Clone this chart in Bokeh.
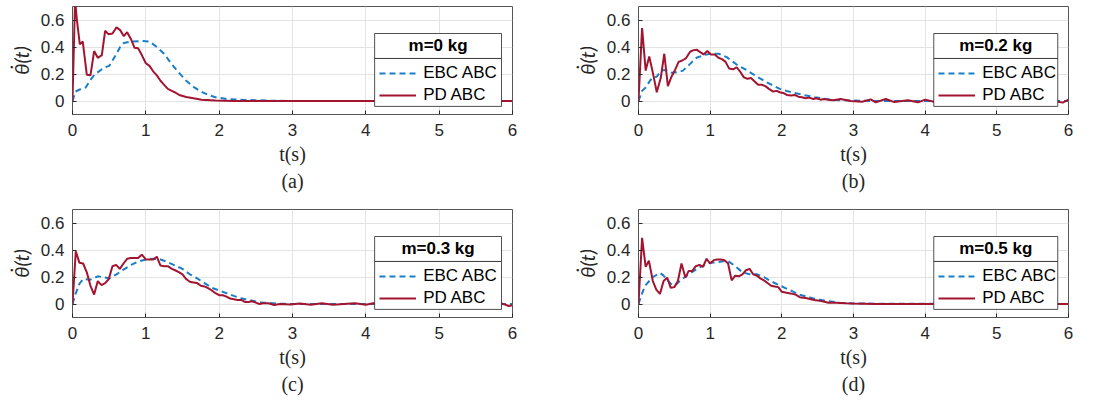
from bokeh.plotting import figure
from bokeh.layouts import column, row
from bokeh.models import (Range1d, FixedTicker, BoxAnnotation, Label, Legend,
                          LegendItem, Title)
from bokeh.embed import file_html
from bokeh.resources import INLINE

# ---------------- data ----------------
x_ticks = [0, 1, 2, 3, 4, 5, 6]
y_ticks = [0, 0.2, 0.4, 0.6]
y_tick_labels = ["0", "0.2", "0.4", "0.6"]
x_label = "t(s)"
y_label = "\u03b8\u0307(t)"
series_names = ["EBC ABC", "PD ABC"]
mass_labels = ["m=0 kg", "m=0.2 kg", "m=0.3 kg", "m=0.5 kg"]
captions = ["(a)", "(b)", "(c)", "(d)"]

# (a) m = 0 kg
t_a_ebc = [0, 0.04, 0.1, 0.18, 0.25, 0.3, 0.4, 0.445, 0.5, 0.545, 0.6, 0.65, 0.7, 0.8, 0.945,
           1.05, 1.15, 1.25, 1.35, 1.45, 1.55, 1.65, 1.75, 1.85, 1.95, 2.1, 2.35, 2.67, 3.0, 6.0]
v_a_ebc = [0, 0.07, 0.085, 0.1, 0.16, 0.195, 0.235, 0.25, 0.26, 0.3, 0.35, 0.4, 0.43, 0.44, 0.445,
           0.44, 0.4, 0.35, 0.275, 0.21, 0.15, 0.105, 0.07, 0.045, 0.028, 0.015, 0.008, 0.003, 0.0, 0.0]
t_a_pd = [0, 0.035, 0.06, 0.1, 0.14, 0.16, 0.195, 0.245, 0.295, 0.345, 0.4, 0.445, 0.49, 0.545, 0.6,
          0.65, 0.7, 0.745, 0.8, 0.845, 0.895, 0.945, 1.0, 1.05, 1.1, 1.15, 1.2, 1.25, 1.3, 1.355,
          1.4, 1.455, 1.55, 1.65, 1.76, 1.95, 2.2, 6.0]
v_a_pd = [0, 0.75, 0.6, 0.42, 0.44, 0.35, 0.195, 0.19, 0.37, 0.32, 0.34, 0.52, 0.495, 0.5, 0.545,
          0.525, 0.48, 0.51, 0.455, 0.395, 0.39, 0.34, 0.28, 0.26, 0.22, 0.19, 0.15, 0.12, 0.09, 0.075,
          0.063, 0.045, 0.03, 0.02, 0.01, 0.003, 0.0, 0.0]

# (b) m = 0.2 kg
t_b_ebc = [0, 0.05, 0.1, 0.16, 0.2, 0.255, 0.31, 0.37, 0.46, 0.56, 0.62, 0.72, 0.81, 0.91, 1.01,
           1.12, 1.23, 1.37, 1.52, 1.67, 1.82, 1.97, 2.13, 2.3, 2.46, 2.62, 2.72, 3.0, 3.3, 6.0]
v_b_ebc = [0, 0.075, 0.1, 0.15, 0.175, 0.18, 0.225, 0.23, 0.21, 0.215, 0.225, 0.275, 0.32, 0.34, 0.35,
           0.35, 0.325, 0.27, 0.225, 0.175, 0.13, 0.09, 0.065, 0.045, 0.028, 0.015, 0.008, 0.003, 0.0, 0.0]
t_b_pd = [0, 0.05, 0.1, 0.15, 0.2, 0.255, 0.31, 0.36, 0.41, 0.46, 0.51, 0.56, 0.61, 0.66, 0.72,
          0.76, 0.81, 0.865, 0.91, 0.96, 1.01, 1.065, 1.115, 1.165, 1.215, 1.265, 1.32, 1.37, 1.415,
          1.47, 1.52, 1.57, 1.62, 1.67, 1.72, 1.77, 1.82, 1.88, 1.93, 1.97, 2.03, 2.07, 2.13, 2.18,
          2.23, 2.28, 2.33, 2.38, 2.44, 2.48, 2.54, 2.59, 2.65, 2.72,
          2.82, 2.96, 3.12, 3.24, 3.31, 3.45, 3.57, 3.76, 3.9, 4.0, 4.12, 4.5, 5.0, 5.5, 5.8, 5.92, 6.0]
v_b_pd = [0, 0.54, 0.225, 0.33, 0.21, 0.065, 0.17, 0.35, 0.11, 0.18, 0.23, 0.29, 0.30, 0.315, 0.365,
          0.375, 0.38, 0.36, 0.345, 0.37, 0.345, 0.345, 0.32, 0.31, 0.29, 0.24, 0.235, 0.25, 0.22,
          0.175, 0.165, 0.17, 0.145, 0.12, 0.12, 0.11, 0.09, 0.07, 0.075, 0.065, 0.057, 0.045, 0.04, 0.045,
          0.032, 0.028, 0.02, 0.025, 0.015, 0.02, 0.01, 0.015, 0.01, 0.005,
          0.015, 0.0, -0.005, 0.012, -0.01, 0.015, -0.008, 0.005, -0.01, 0.01, -0.005, 0.0, 0.005, 0.0, 0.0, -0.012, 0.01]

# (c) m = 0.3 kg
t_c_ebc = [0, 0.045, 0.095, 0.145, 0.245, 0.345, 0.5, 0.6, 0.695, 0.8, 0.9, 1.0, 1.1, 1.2, 1.3, 1.4,
           1.5, 1.6, 1.7, 1.8, 1.9, 2.0, 2.1, 2.2, 2.3, 2.4, 2.5, 2.6, 2.8, 3.0, 6.0]
v_c_ebc = [0, 0.08, 0.15, 0.185, 0.18, 0.205, 0.19, 0.22, 0.255, 0.29, 0.315, 0.33, 0.335, 0.33, 0.31, 0.285,
           0.26, 0.22, 0.19, 0.155, 0.12, 0.1, 0.08, 0.06, 0.042, 0.03, 0.018, 0.01, 0.003, 0.0, 0.0]
t_c_pd = [0, 0.045, 0.095, 0.145, 0.195, 0.245, 0.295, 0.345, 0.395, 0.445, 0.495, 0.545, 0.595, 0.645,
          0.695, 0.745, 0.795, 0.845, 0.895, 0.945, 1.0, 1.05, 1.1, 1.15, 1.2, 1.25, 1.3, 1.355, 1.4,
          1.455, 1.5, 1.55, 1.6, 1.65, 1.7, 1.75, 1.8, 1.855, 1.9, 1.95, 2.0, 2.05, 2.1, 2.15, 2.2, 2.25,
          2.3, 2.35, 2.4, 2.45, 2.5, 2.55, 2.6, 2.67, 2.75, 2.83, 2.97, 3.1, 3.25, 3.4, 3.55, 3.7, 3.85,
          4.0, 4.1, 4.5, 5.0, 5.5, 5.85, 5.95, 6.0]
v_c_pd = [0, 0.39, 0.305, 0.3, 0.235, 0.135, 0.07, 0.17, 0.14, 0.155, 0.185, 0.28, 0.29, 0.26,
          0.3, 0.335, 0.34, 0.34, 0.34, 0.365, 0.33, 0.33, 0.33, 0.35, 0.285, 0.28, 0.28, 0.26, 0.25,
          0.235, 0.22, 0.185, 0.165, 0.16, 0.155, 0.135, 0.13, 0.115, 0.1, 0.08, 0.065, 0.065, 0.055, 0.04, 0.035, 0.03,
          0.03, 0.015, 0.015, 0.02, 0.01, 0.0, 0.005, 0.005, -0.008, 0.0, -0.004, 0.004, -0.005, 0.005, -0.005, 0.0, 0.005,
          -0.005, 0.005, 0.0, 0.0, 0.0, 0.005, -0.015, -0.01]

# (d) m = 0.5 kg
t_d_ebc = [0, 0.05, 0.1, 0.2, 0.3, 0.35, 0.45, 0.5, 0.6, 0.7, 0.8, 0.9, 1.0, 1.1, 1.2, 1.25, 1.35,
           1.45, 1.55, 1.65, 1.75, 1.85, 1.95, 2.05, 2.15, 2.25, 2.35, 2.45, 2.55, 2.65, 2.8, 3.0, 6.0]
v_d_ebc = [0, 0.08, 0.14, 0.2, 0.23, 0.21, 0.15, 0.135, 0.18, 0.22, 0.255, 0.285, 0.305, 0.31, 0.318, 0.318, 0.28,
           0.235, 0.22, 0.22, 0.2, 0.168, 0.143, 0.118, 0.093, 0.068, 0.055, 0.04, 0.03, 0.02, 0.01, 0.003, 0.0]
t_d_pd = [0, 0.05, 0.1, 0.145, 0.2, 0.25, 0.3, 0.35, 0.4, 0.45, 0.5, 0.55, 0.6, 0.655, 0.7, 0.75, 0.8,
          0.85, 0.9, 0.95, 1.0, 1.05, 1.1, 1.15, 1.2, 1.25, 1.3, 1.35, 1.4, 1.45, 1.5, 1.55, 1.6, 1.65,
          1.7, 1.75, 1.8, 1.85, 1.9, 1.95, 2.0, 2.05, 2.1, 2.15, 2.2, 2.25, 2.35, 2.45, 2.55, 2.65, 2.75,
          2.9, 3.0, 3.3, 6.0]
v_d_pd = [0, 0.49, 0.275, 0.32, 0.17, 0.105, 0.075, 0.17, 0.195, 0.12, 0.125, 0.17, 0.3, 0.195, 0.245, 0.245, 0.28,
          0.29, 0.275, 0.335, 0.3, 0.325, 0.33, 0.33, 0.325, 0.3, 0.175, 0.21, 0.205, 0.22, 0.25, 0.26, 0.22, 0.21,
          0.19, 0.175, 0.155, 0.135, 0.13, 0.125, 0.09, 0.085, 0.08, 0.075, 0.068, 0.05, 0.043, 0.03, 0.022, 0.01, 0.01,
          0.005, 0.003, 0.0, 0.0]

# ---------------- style ----------------
EBC_COLOR = "#1A7DC8"
PD_COLOR = "#A2142F"
AX_COLOR = "#262626"
SANS = "Liberation Sans"
SERIF = "Liberation Serif"

# legend box extents in data units
LEG_X0, LEG_X1 = 4.12, 5.85
LEG_TOP, LEG_SEP, LEG_BOT = 0.5, 0.315, -0.04
X0, X1, Y0, Y1 = 0, 6, -0.1, 0.7


def panel(idx, t_ebc, v_ebc, t_pd, v_pd, width, height, bl, br, bt, bb):
    p = figure(width=width, height=height, output_backend="svg", toolbar_location=None,
               x_range=Range1d(X0, X1), y_range=Range1d(Y0, Y1),
               min_border_left=bl, min_border_right=br, min_border_top=bt, min_border_bottom=bb,
               background_fill_color="white", border_fill_color="white")
    fw = width - bl - br
    fh = height - bt - bb

    n1 = min(len(t_ebc), len(v_ebc))
    n2 = min(len(t_pd), len(v_pd))
    r_ebc = p.line(x=t_ebc[:n1], y=v_ebc[:n1], line_color=EBC_COLOR, line_width=2,
                   line_dash="6 4")
    r_pd = p.line(x=t_pd[:n2], y=v_pd[:n2], line_color=PD_COLOR, line_width=2)

    # axes
    p.xaxis.ticker = FixedTicker(ticks=x_ticks)
    p.yaxis.ticker = FixedTicker(ticks=y_ticks)
    p.yaxis.major_label_overrides = {t: s for t, s in zip(y_ticks, y_tick_labels)}
    for ax in (p.xaxis[0], p.yaxis[0]):
        ax.axis_line_color = None
        ax.major_tick_in = 4
        ax.major_tick_out = 0
        ax.major_tick_line_color = AX_COLOR
        ax.minor_tick_line_color = None
        ax.major_label_text_font = SANS
        ax.major_label_text_font_size = "17px"
        ax.major_label_text_color = AX_COLOR
        ax.axis_label_text_color = AX_COLOR
        ax.axis_label_text_font = SERIF
        ax.axis_label_text_font_size = "20px"
    p.xaxis.axis_label = x_label
    p.xaxis.axis_label_text_font_style = "normal"
    p.xaxis.major_label_standoff = 9
    p.xaxis.axis_label_standoff = 4
    p.yaxis.axis_label = y_label
    p.yaxis.axis_label_text_font = "Lato"
    p.yaxis.axis_label_text_font_size = "20px"
    p.yaxis.axis_label_text_font_style = "italic"
    p.yaxis.major_label_standoff = 8
    p.yaxis.axis_label_standoff = 5

    p.grid.grid_line_color = "#e3e3e3"
    p.grid.grid_line_width = 1
    p.outline_line_color = "#555555"
    p.outline_line_width = 1

    cap = Title(text=captions[idx], align="center", text_font=SERIF, text_font_size="20px",
                text_font_style="normal", text_color=AX_COLOR, standoff=0)
    p.add_layout(cap, "below")

    # legend frame: title box + entries box
    p.add_layout(BoxAnnotation(left=LEG_X0, right=LEG_X1, top=LEG_TOP, bottom=LEG_SEP,
                               fill_color="white", fill_alpha=1.0,
                               line_color=AX_COLOR, line_width=1, line_alpha=0.8))
    p.add_layout(BoxAnnotation(left=LEG_X0, right=LEG_X1, top=LEG_SEP, bottom=LEG_BOT,
                               fill_color="white", fill_alpha=1.0,
                               line_color=AX_COLOR, line_width=1, line_alpha=0.8))
    p.add_layout(Label(x=(LEG_X0 + LEG_X1) / 2, y=(LEG_TOP + LEG_SEP) / 2, text=mass_labels[idx],
                       text_align="center", text_baseline="middle", text_font=SANS,
                       text_font_size="17px", text_font_style="bold", text_color="black"))
    vx = fw * (LEG_X0 - X0) / (X1 - X0) + 5
    vy = fh * (LEG_BOT - Y0) / (Y1 - Y0) + 1
    leg = Legend(items=[LegendItem(label=series_names[0], renderers=[r_ebc]),
                        LegendItem(label=series_names[1], renderers=[r_pd])],
                 location=(vx, vy), border_line_color=None, background_fill_alpha=0,
                 padding=0, spacing=2, margin=0, glyph_width=37, glyph_height=20,
                 label_height=20, label_standoff=7, label_text_font=SANS,
                 label_text_font_size="17px", label_text_color="black")
    p.add_layout(leg)
    return p


pa = panel(0, t_a_ebc, v_a_ebc, t_a_pd, v_a_pd, 546, 201, 72, 34, 6, 87)
pb = panel(1, t_b_ebc, v_b_ebc, t_b_pd, v_b_pd, 547, 201, 92, 25, 6, 87)
pc = panel(2, t_c_ebc, v_c_ebc, t_c_pd, v_c_pd, 546, 202, 72, 34, 8, 86)
pd_ = panel(3, t_d_ebc, v_d_ebc, t_d_pd, v_d_pd, 547, 202, 92, 25, 8, 86)

layout = column(row(pa, pb, spacing=0), row(pc, pd_, spacing=0), spacing=0)
open("out.html", "w").write(file_html(layout, INLINE))
